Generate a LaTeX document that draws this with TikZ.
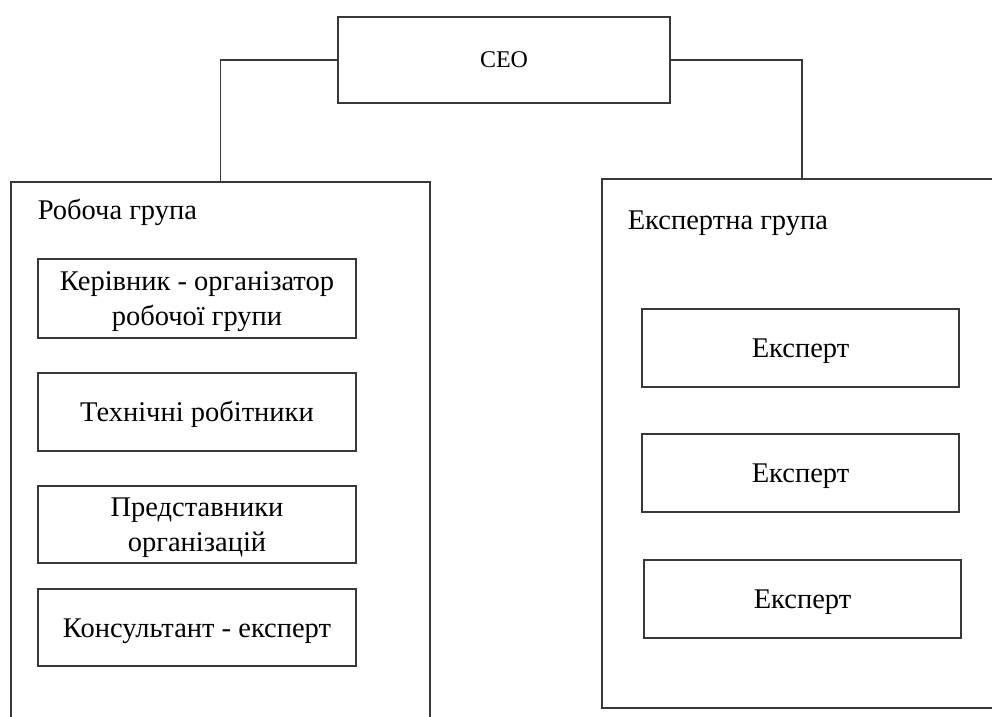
\documentclass[tikz,border=0pt]{standalone}
\usepackage{fontspec}
\setmainfont{Liberation Serif}
\newcommand\mystrut{\rule{0pt}{26pt}}
\begin{document}
\begin{tikzpicture}[x=1pt,y=-1pt,
  line width=1.6pt,
  frame/.style={draw=black!78, line width=1.6pt},
  grp/.style={frame, inner sep=0pt, anchor=north west},
  item/.style={frame, inner sep=0pt, minimum width=318pt, align=center,
     font=\fontsize{28.5}{35}\selectfont},
  title/.style={anchor=base west, inner sep=0pt, font=\fontsize{28.5}{35}\selectfont},
  link/.style={draw=black!78, line width=1.6pt}]
\useasboundingbox (0,0) rectangle (992,716);
\clip (0,0) rectangle (992,716);
% group boxes
\node[grp, minimum width=419pt, minimum height=580pt] (lg) at (10,181) {};
\node[grp, minimum width=400pt, minimum height=529pt] (rg) at (601,178) {};
% CEO
\node[frame, minimum width=332pt, minimum height=86pt, inner sep=0pt,
      font=\fontsize{24}{29}\selectfont] (ceo) at (504,60) {CEO};
\draw[link] (ceo.west) -| (lg.north);
\draw[link] (ceo.east) -| (rg.north);
% titles
\node[title] (lt) at (37,219) {Робоча група};
\node[title] (rt) at (627,229) {Експертна група};
% left items
\node[item, minimum height=79pt] (a1) at (197,298.5) {\mystrut Керівник - організатор\\робочої групи};
\node[item, minimum height=78pt] (a2) at (197,412) {\mystrut Технічні робітники};
\node[item, minimum height=77pt] (a3) at (197,524.5) {\mystrut Представники\\організацій};
\node[item, minimum height=77pt] (a4) at (197,627.5) {\mystrut Консультант - експерт};
% right items
\node[item, minimum width=317pt, minimum height=78pt] (b1) at (800.5,348) {\mystrut Експерт};
\node[item, minimum width=317pt, minimum height=78pt] (b2) at (800.5,473) {\mystrut Експерт};
\node[item, minimum width=317pt, minimum height=78pt] (b3) at (802.5,599) {\mystrut Експерт};
\end{tikzpicture}
\end{document}
